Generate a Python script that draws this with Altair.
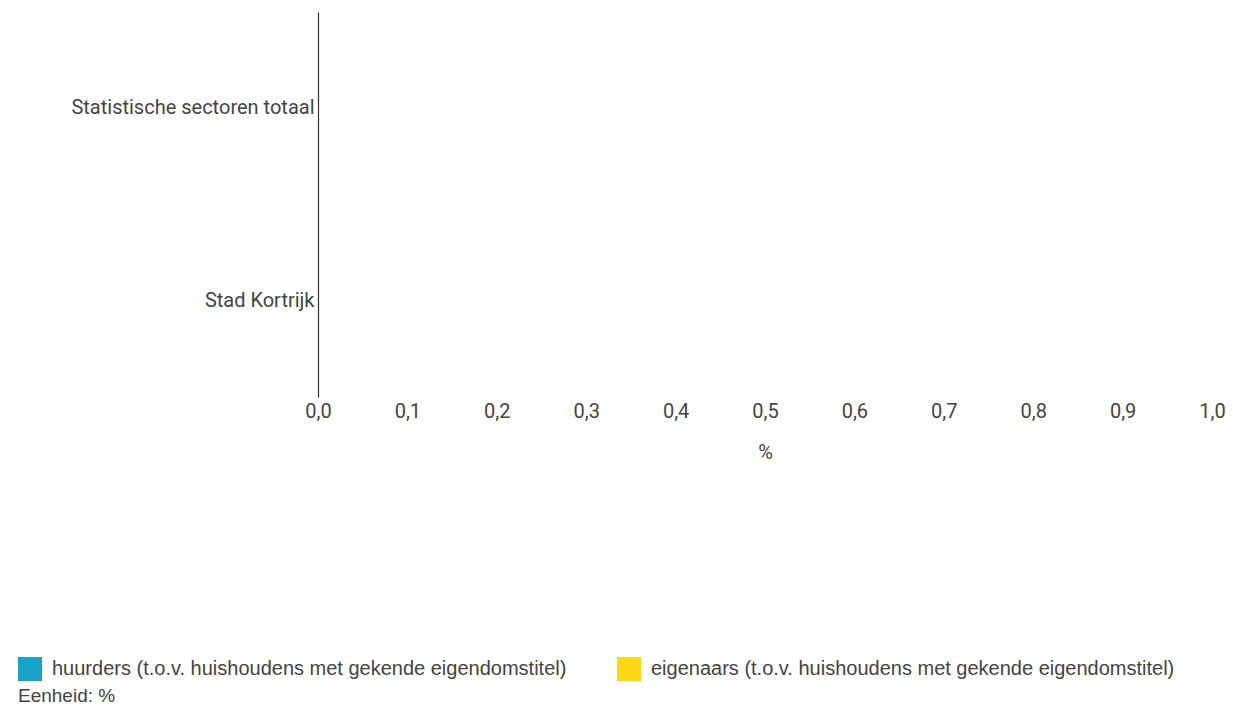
import altair as alt
import pandas as pd

categories = ["Statistische sectoren totaal", "Stad Kortrijk"]
series = [
    "huurders (t.o.v. huishoudens met gekende eigendomstitel)",
    "eigenaars (t.o.v. huishoudens met gekende eigendomstitel)",
]
huurders_values = [None, None]
eigenaars_values = [None, None]
series_colors = ["#17a3c9", "#ffd814"]
x_ticks = [0.0, 0.1, 0.2, 0.3, 0.4, 0.5, 0.6, 0.7, 0.8, 0.9, 1.0]
unit_note = "Eenheid: %"

rows = []
for cat, h, e in zip(categories, huurders_values, eigenaars_values):
    rows.append({"gebied": cat, "reeks": series[0], "waarde": h})
    rows.append({"gebied": cat, "reeks": series[1], "waarde": e})
df = pd.DataFrame(rows)

bars = (
    alt.Chart(df)
    .mark_bar()
    .encode(
        y=alt.Y(
            "gebied:N",
            scale=alt.Scale(domain=categories, paddingInner=0, paddingOuter=0),
            sort=categories,
            axis=alt.Axis(
                title=None,
                ticks=False,
                grid=False,
                domain=True,
                domainColor="#333333",
                domainWidth=1.2,
                labelFont="Roboto",
                labelFontSize=20,
                labelColor="#444444",
                labelPadding=4,
                labelLimit=400,
            ),
        ),
        yOffset=alt.YOffset("reeks:N", scale=alt.Scale(domain=series)),
        x=alt.X(
            "waarde:Q",
            scale=alt.Scale(domain=[0, 1], nice=False),
            axis=alt.Axis(
                title="%",
                values=x_ticks,
                labelExpr="replace(format(datum.value, '.1f'), '.', ',')",
                labelFlush=False,
                ticks=False,
                grid=False,
                domain=False,
                labelFont="Roboto",
                labelFontSize=20,
                labelColor="#444444",
                labelPadding=4,
                titleFont="Roboto",
                titleFontSize=20,
                titleFontWeight="normal",
                titleColor="#444444",
                titlePadding=21,
            ),
        ),
        color=alt.Color(
            "reeks:N",
            scale=alt.Scale(domain=series, range=series_colors),
            legend=alt.Legend(
                title=None,
                orient="none",
                legendX=-300,
                legendY=645,
                direction="horizontal",
                symbolType="square",
                symbolSize=576,
                symbolStrokeWidth=0,
                labelFont="Liberation Sans",
                labelFontSize=20,
                labelColor="#444444",
                labelOffset=10,
                labelLimit=800,
                columnPadding=50,
            ),
        ),
    )
)

note = (
    alt.Chart(pd.DataFrame({"tekst": [unit_note]}))
    .mark_text(
        align="left",
        baseline="alphabetic",
        font="Liberation Sans",
        fontSize=19,
        color="#444444",
    )
    .encode(x=alt.value(-300), y=alt.value(690), text="tekst:N")
)

chart = (
    alt.layer(bars, note)
    .properties(
        width=894,
        height=385,
        padding={"left": 310, "top": 4, "right": 13, "bottom": 309},
        autosize=alt.AutoSizeParams(type="none"),
    )
    .configure_view(stroke=None)
)

chart.save("out.html", embed_options={"renderer": "svg", "actions": False})
